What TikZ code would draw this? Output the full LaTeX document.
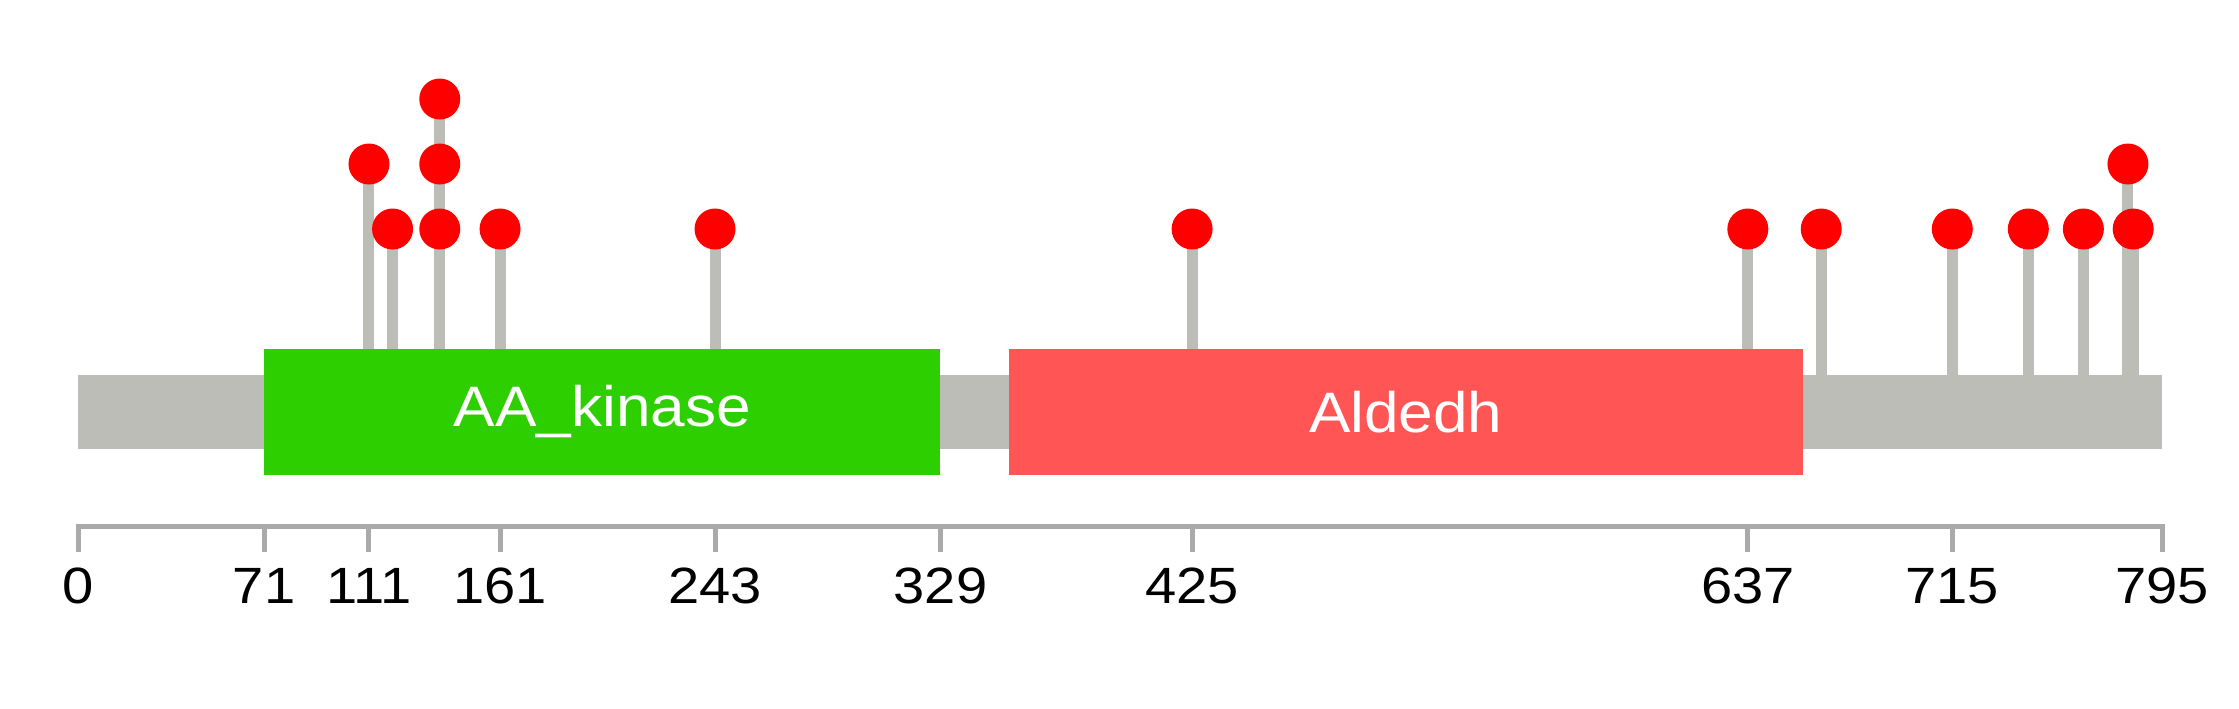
\documentclass[tikz,border=0pt]{standalone}
\usepackage{fontspec}
\setmainfont{Liberation Sans}
\usepackage{xcolor}
\usetikzlibrary{positioning}

\definecolor{bbgray}{RGB}{187,189,182}
\definecolor{axisgray}{RGB}{170,170,170}
\definecolor{kinasegreen}{RGB}{46,207,0}
\definecolor{aldedhred}{RGB}{255,85,85}
\definecolor{sitered}{RGB}{255,0,0}

\begin{document}
\begin{tikzpicture}[
        x=0.5pt, y=-0.5pt, % pixel grid, y pointing down
        every node/.style={font=\fontsize{25.5}{26}\selectfont},
        backbone/.style={fill=bbgray},
        stem/.style={draw=bbgray, line width=5.5pt},
        site/.style={circle, fill=sitered, inner sep=0pt, minimum size=20.5pt},
        domlabel/.style={text=white, font=\fontsize{28.5}{30}\selectfont, xscale=1.09, transform shape},
        ticklabel/.style={anchor=base, xscale=1.1, transform shape},
        axis/.style={draw=axisgray, line width=2.5pt}
    ]
        \useasboundingbox (0,0) rectangle (2239,708);

        % residue scale: 0..795
        \begin{scope}[xshift=39pt, x=1.3107pt]
            % Backbone
            \fill[backbone] (0,375) rectangle (795,449);

            % Stems
            \foreach \pos/\top in {111/164, 120/229, 138/99, 161/229, 243/229, 425/229,
                    637/229, 665/229, 715/229, 744/229, 765/229, 782/164, 784/229}
                \draw[stem] (\pos,375) -- (\pos,\top);

            % Domains
            \fill[kinasegreen] (71,349) rectangle (329,475);
            \node[domlabel] (kinase) at (200,412) {AA\_kinase};
            \fill[aldedhred] (355,349) rectangle (658,475);
            \node[domlabel] (aldedh) at (506.5,412) {Aldedh};

            % Sites
            \foreach \pos/\lvl in {111/164, 120/229, 138/229, 138/164, 138/99, 161/229,
                    243/229, 425/229, 637/229, 665/229, 715/229, 744/229, 765/229,
                    782/164, 784/229}
                \node[site] (site-\pos-\lvl) at (\pos,\lvl) {};

            % Axis
            \draw[axis] (0,552) -- (0,526.5) -- (795,526.5) -- (795,552);
            \foreach \t in {71, 111, 161, 243, 329, 425, 637, 715}
                \draw[axis] (\t,526.5) -- (\t,552);
            \foreach \t in {0, 71, 111, 161, 243, 329, 425, 637, 715, 795}
                \node[ticklabel] (tick-\t) at (\t,603) {\t};
        \end{scope}
    \end{tikzpicture}
\end{document}
